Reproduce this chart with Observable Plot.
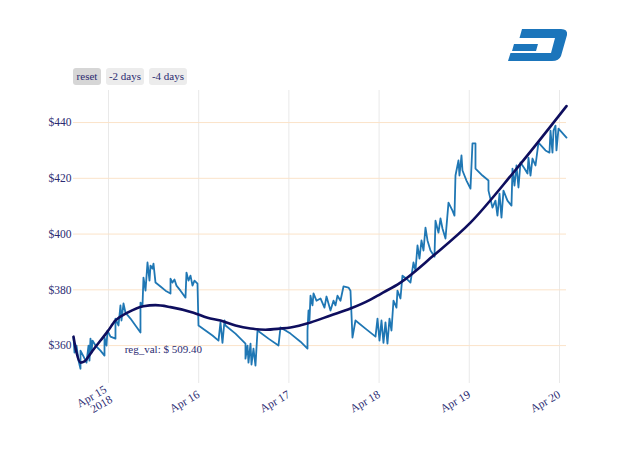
<!DOCTYPE html>
<html>
<head>
<meta charset="utf-8">
<script src="https://cdn.jsdelivr.net/npm/d3@7"></script>
<script src="https://cdn.jsdelivr.net/npm/@observablehq/plot@0.6"></script>
<style>
  html, body { margin: 0; padding: 0; background: #fff; }
  #wrap { position: relative; width: 640px; height: 457px; font-family: "Liberation Serif", "DejaVu Serif", serif; }
  .btn { position: absolute; top: 68px; height: 17px; line-height: 17px; font-size: 11px; color: #2b2b70;
         background: #ececec; border-radius: 3px; text-align: center; font-family: "Liberation Serif", serif; }
  .btn.active { background: #d6d6d6; }
  #logo { position: absolute; left: 0; top: 0; }
</style>
</head>
<body>
<div id="wrap"></div>
<script>
// ---- data (hours from 2018-04-15 00:00 UTC, value in USD) ----
const priceHours = [-9.31,-9.05,-8.51,-7.98,-7.45,-7.45,-6.65,-5.85,-5.32,-5.06,-4.79,-4.52,-4.26,-3.46,-2.13,-1.06,-1.06,-0.53,-0.27,0.53,
  1.86,1.86,2.66,3.19,3.46,3.99,4.52,5.85,7.18,8.51,8.51,9.05,9.31,9.85,10.38,10.91,11.18,11.71,11.97,12.51,
  13.84,15.17,16.50,16.50,17.03,17.56,18.09,19.16,20.49,20.75,21.29,21.82,22.35,22.88,23.68,23.95,25.81,27.67,29.27,29.80,
  30.33,30.87,31.13,33.79,36.45,36.45,36.99,37.25,37.79,38.05,38.58,39.11,39.65,42.57,45.23,45.77,48.43,51.09,52.95,52.95,
  53.22,53.48,53.75,54.28,54.55,55.34,56.41,57.47,58.01,59.07,59.87,60.40,60.93,61.73,62.53,63.86,64.39,64.92,65.72,68.38,
  71.05,71.58,72.11,72.64,73.17,73.70,74.23,74.77,75.30,75.83,76.63,76.89,77.69,78.22,79.29,80.35,81.15,81.69,82.22,82.75,
  83.28,83.82,84.35,84.88,85.68,86.74,87.01,87.81,88.34,88.87,89.67,90.47,91.53,92.06,92.33,93.13,93.39,93.93,94.19,95.26,
  96.32,96.85,97.65,97.65,99.51,101.11,101.11,102.17,102.97,103.50,104.04,104.57,105.10,106.16,107.23,107.50,108.03,108.56,109.09,109.63,
  110.69,111.49,111.75,112.29,112.82,113.62,114.41,116.28,117.34,117.61,118.14,118.41,118.94,119.20,119.74,121.87];
const priceValues = [362.9,357.5,360.0,354.6,351.7,358.2,356.1,353.9,360.0,354.6,362.5,357.5,361.8,360.0,358.2,356.4,362.9,360.0,365.4,363.2,
  362.5,369.7,367.2,374.4,369.0,375.1,371.8,369.7,367.2,364.7,375.4,374.4,384.4,379.7,389.8,383.3,388.7,387.6,389.4,382.6,
  381.2,379.7,378.7,384.0,382.6,383.7,381.5,379.7,377.2,386.2,383.3,385.1,381.5,383.3,382.2,367.2,365.4,363.6,361.8,368.3,
  361.0,369.0,367.2,364.3,360.7,355.3,360.0,353.9,360.7,353.2,358.9,352.8,365.4,362.5,360.0,366.5,364.3,361.4,358.9,365.4,
  372.6,369.0,377.9,374.4,378.7,376.1,376.9,373.6,377.6,372.6,376.1,374.4,377.9,376.1,381.2,380.8,379.7,362.9,369.0,366.1,
  363.2,369.7,361.8,369.0,361.0,368.3,360.7,369.7,365.4,376.1,373.6,379.7,376.9,385.1,384.0,382.6,389.8,386.9,395.9,391.2,
  397.7,394.1,402.3,397.7,394.1,391.9,404.8,400.5,405.6,402.0,398.4,411.3,408.4,406.6,421.0,426.4,421.0,428.2,422.8,419.2,
  416.3,432.5,432.5,423.5,421.0,419.2,415.6,409.5,412.0,406.6,414.5,405.9,415.6,412.0,410.2,423.5,417.4,424.6,416.7,425.7,
  423.5,421.7,427.4,421.0,427.1,424.6,432.8,430.0,429.2,437.1,429.2,437.1,438.9,430.0,437.8,434.6];

const regHours = [-9.31,-8.51,-7.45,-6.39,-5.32,-3.99,-2.13,-0.27,1.86,5.06,9.31,12.51,16.50,22.62,26.34,29.80,33.79,37.79,41.77,45.77,
  48.43,53.75,59.07,64.39,69.71,72.37,77.69,86.48,96.32,107.76,121.87];
const regValues = [363.2,357.5,353.9,354.3,356.1,358.6,361.8,365.0,369.0,371.8,374.1,374.5,373.8,371.8,370.0,369.0,367.2,366.1,365.7,366.1,
  366.5,368.3,370.8,373.3,376.5,378.5,382.6,392.3,404.1,422.1,445.9];

const yTicks = [360, 380, 400, 420, 440];
const xTickDays = ["2018-04-15","2018-04-16","2018-04-17","2018-04-18","2018-04-19","2018-04-20"];
const annotationText = ["reg_val: $ 509.40"];
const annotationHours = [4.3];
const annotationValues = [358.7];
const buttons = ["reset", "-2 days", "-4 days"];

// ---- build ----
const t0 = Date.UTC(2018, 3, 15);
const toDate = h => new Date(t0 + h * 3600e3);
const price = priceHours.map((h, i) => ({date: toDate(h), value: priceValues[i]}));
const reg = regHours.map((h, i) => ({date: toDate(h), value: regValues[i]}));
const ann = annotationText.map((t, i) => ({date: toDate(annotationHours[i]), value: annotationValues[i], text: t}));
const xTicks = xTickDays.map(s => new Date(s + "T00:00:00Z"));
const fmtDay = d3.utcFormat("%b %-d");

const textColor = "#2b2b72";
const chart = Plot.plot({
  width: 640, height: 457,
  marginLeft: 73, marginRight: 74, marginTop: 90, marginBottom: 74,
  style: {fontFamily: "'Liberation Serif', serif", fontSize: "11px", color: textColor, background: "#fff"},
  x: {type: "utc", domain: [price[0].date, price[price.length - 1].date]},
  y: {domain: [346.4, 451.5]},
  marks: [
    Plot.gridX(xTicks, {stroke: "#e9e9e9", strokeOpacity: 1}),
    Plot.gridY(yTicks, {stroke: "#fbe3c9", strokeOpacity: 1}),
    Plot.axisY(yTicks, {tickSize: 0, tickPadding: 2, tickFormat: d => "$" + d, label: null, fontSize: 11.5}),
    Plot.axisX(xTicks, {tickSize: 0, tickPadding: 10, tickRotate: -30, label: null, fontSize: 11.5,
      tickFormat: (d, i) => i === 0 ? fmtDay(d) + "\n" + d.getUTCFullYear() : fmtDay(d)}),
    Plot.line(price, {x: "date", y: "value", stroke: "#1f77b4", strokeWidth: 1.8}),
    Plot.line(reg, {x: "date", y: "value", stroke: "#0e0e5e", strokeWidth: 2.6, curve: "monotone-x"}),
    Plot.text(ann, {x: "date", y: "value", text: "text", textAnchor: "start", fill: textColor, fontSize: 11})
  ]
});
const wrap = document.getElementById("wrap");
wrap.appendChild(chart);

// range selector buttons
const btnPos = [[73, 28], [106, 38], [149, 38]];
buttons.forEach((b, i) => {
  const el = document.createElement("div");
  el.className = "btn" + (i === 0 ? " active" : "");
  el.style.left = btnPos[i][0] + "px";
  el.style.width = btnPos[i][1] + "px";
  el.textContent = b;
  wrap.appendChild(el);
});

// Dash logo
const ns = "http://www.w3.org/2000/svg";
const logo = document.createElementNS(ns, "svg");
logo.setAttribute("id", "logo");
logo.setAttribute("width", "640");
logo.setAttribute("height", "80");
logo.innerHTML = '<path fill="#1b75bb" d="M522,29 L561,29 Q568,29 567,35 L561,56 Q559,61 552,61 L508,61 L510.5,53 L551,53 L555,38 L519.5,38 Z"/>' +
  '<path fill="#1b75bb" d="M514,44 L538,44 L536,51 L512,51 Z"/>';
wrap.appendChild(logo);
</script>
</body>
</html>
